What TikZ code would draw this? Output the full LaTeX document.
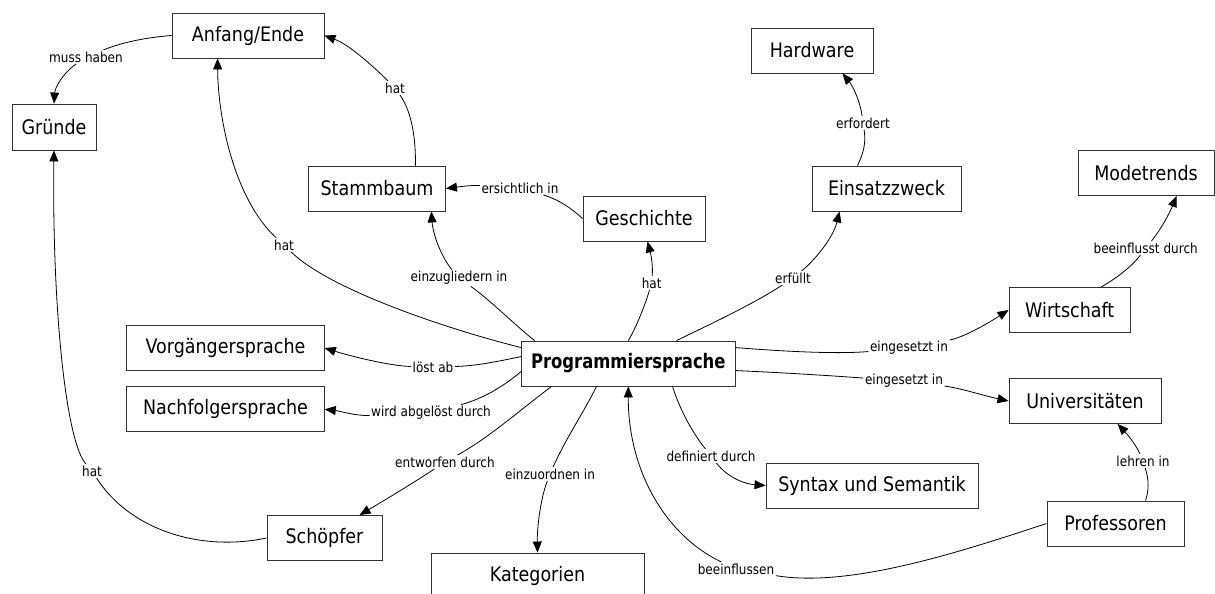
\documentclass[tikz,border=0pt]{standalone}
\usepackage{fontspec}
\newfontfamily\boxfont{DejaVu Sans}[FakeStretch=0.875]
\newfontfamily\pfont{DejaVu Sans}[FakeStretch=0.82]
\usetikzlibrary{arrows.meta,calc}
\tikzset{
  concept/.style={draw=black!80, line width=0.9pt, inner sep=0pt, minimum height=45pt,
    font=\boxfont\fontsize{20}{24}\selectfont},
  lbl/.style={inner sep=1.5pt, font=\boxfont\fontsize{13.8}{16}\selectfont},
  link/.style={line width=0.8pt, black},
  arr/.style={link, -{Triangle[length=11pt,width=9pt]}},
}
\begin{document}
\begin{tikzpicture}[x=1pt,y=-1pt]
\useasboundingbox (0,0) rectangle (1215,594);
\clip (0,0) rectangle (1215,594);
% concepts
\node[concept, minimum width=152pt] (A) at (248,35.5) {Anfang/Ende};
\node[concept, minimum width=84pt, minimum height=46pt] (G) at (54,127) {Gründe};
\node[concept, minimum width=137pt] (S) at (377,188.5) {Stammbaum};
\node[concept, minimum width=122pt] (Ge) at (644,218.5) {Geschichte};
\node[concept, minimum width=122pt] (H) at (812,50.5) {Hardware};
\node[concept, minimum width=149pt] (E) at (886.5,188.5) {Einsatzzweck};
\node[concept, minimum width=136pt] (M) at (1146,173) {Modetrends};
\node[concept, minimum width=121.5pt] (W) at (1069.75,310) {Wirtschaft};
\node[concept, minimum width=197.6pt] (V) at (225.5,348) {Vorgängersprache};
\node[concept, minimum width=197.6pt] (N) at (225.5,409.3) {Nachfolgersprache};
\node[concept, minimum width=213.3pt, font=\pfont\bfseries\fontsize{20}{24}\selectfont] (P) at (628.3,363.5) {Programmiersprache};
\node[concept, minimum width=152pt] (U) at (1085,401) {Universitäten};
\node[concept, minimum width=212pt] (Syn) at (872,485.5) {Syntax und Semantik};
\node[concept, minimum width=137pt] (Prof) at (1115.5,523.5) {Professoren};
\node[concept, minimum width=115pt] (Sch) at (324.5,538) {Schöpfer};
\node[concept, minimum width=213pt] (K) at (537.5,575.5) {Kategorien};
% labels
\node[lbl] (l1) at (86,57) {muss haben};
\node[lbl] (l2) at (395,88) {hat};
\node[lbl] (l3) at (284,245) {hat};
\node[lbl] (l4) at (459,278) {einzugliedern in};
\node[lbl] (l5) at (520,188) {ersichtlich in};
\node[lbl] (l6) at (651.7,283) {hat};
\node[lbl] (l7) at (793,278) {erfüllt};
\node[lbl] (l8) at (863,123) {erfordert};
\node[lbl] (l9) at (909,348) {eingesetzt in};
\node[lbl] (l10) at (904,381) {eingesetzt in};
\node[lbl] (l11) at (1145.7,248) {beeinflusst durch};
\node[lbl] (l12) at (1143,461) {lehren in};
\node[lbl] (l13) at (736,569) {beeinflussen};
\node[lbl] (l14) at (711,456) {definiert durch};
\node[lbl] (l15) at (550,474) {einzuordnen in};
\node[lbl] (l16) at (445,462) {entworfen durch};
\node[lbl] (l17) at (433,367) {löst ab};
\node[lbl] (l18) at (431,413) {wird abgelöst durch};
\node[lbl] (l19) at (92,471) {hat};
% connectors
\draw[link] (A.west) .. controls (140,38) and (118,44) .. (l1);
\draw[arr] (l1) .. controls (62,74) and (55,88) .. (G.north);
\draw[link] ($(S.north west)+(107.3,0)$) .. controls (416,140) and (412,112) .. (l2);
\draw[arr] (l2) .. controls (375,68) and (350,45) .. (A.east);
\draw[link] ($(P.north west)+(0,7)$) .. controls (450,330) and (330,290) .. (l3);
\draw[arr] (l3) .. controls (235,200) and (218,120) .. ($(A.south west)+(46,0)$);
\draw[link] ($(P.north west)+(13.3,0)$) .. controls (515,325) and (490,300) .. (l4);
\draw[arr] (l4) .. controls (442,258) and (433,235) .. ($(S.south west)+(123.3,0)$);
\draw[link] (Ge.west) .. controls (572,209) and (560,200) .. (l5);
\draw[arr] (l5) .. controls (470,185) and (458,187) .. (S.east);
\draw[link] (P.north) .. controls (636,328) and (645,305) .. (l6);
\draw[arr] (l6) .. controls (653,265) and (651,255) .. ($(Ge.south west)+(65,0)$);
\draw[link] ($(P.north west)+(155.3,0)$) .. controls (715,322) and (755,303) .. (l7);
\draw[arr] (l7) .. controls (815,260) and (833,238) .. ($(E.south west)+(28,0)$);
\draw[link] ($(E.north west)+(46,0)$) .. controls (864,152) and (866,142) .. (l8);
\draw[arr] (l8) .. controls (860,100) and (852,85) .. ($(H.south west)+(92,0)$);
\draw[link] ($(P.north east)+(0,7)$) .. controls (790,352) and (840,354) .. (l9);
\draw[arr] (l9) .. controls (965,337) and (990,322) .. (W.west);
\draw[link] ($(P.north east)+(0,30)$) .. controls (790,373) and (835,376) .. (l10);
\draw[arr] (l10) .. controls (960,388) and (985,396) .. (U.west);
\draw[link] ($(W.north west)+(92.7,0)$) .. controls (1120,276) and (1133,265) .. (l11);
\draw[arr] (l11) .. controls (1162,228) and (1170,212) .. ($(M.south west)+(99,0)$);
\draw[link] ($(Prof.north west)+(99,0)$) .. controls (1149,490) and (1149,480) .. (l12);
\draw[arr] (l12) .. controls (1136,445) and (1128,435) .. ($(U.south west)+(109,0)$);
\draw[link] (Prof.west) .. controls (960,552) and (850,588) .. (l13);
\draw[arr] (l13) .. controls (665,535) and (628,470) .. (P.south);
\draw[link] ($(P.south west)+(151.3,0)$) .. controls (680,410) and (692,432) .. (l14);
\draw[arr] (l14) .. controls (728,478) and (745,484) .. (Syn.west);
\draw[link] ($(P.south west)+(75.3,0)$) .. controls (585,410) and (565,440) .. (l15);
\draw[arr] (l15) .. controls (540,500) and (537,530) .. (K.north);
\draw[link] ($(P.south west)+(30.3,0)$) .. controls (520,410) and (490,437) .. (l16);
\draw[arr] (l16) .. controls (410,485) and (385,500) .. ($(Sch.north west)+(93,0)$);
\draw[link] ($(P.north west)+(0,16)$) .. controls (495,362) and (475,366) .. (l17);
\draw[arr] (l17) .. controls (390,366) and (350,356) .. (V.east);
\draw[link] ($(P.north west)+(0,31)$) .. controls (505,385) and (485,398) .. (l18);
\draw[arr] (l18) .. controls (355,416) and (340,411) .. (N.east);
\draw[link] (Sch.west) .. controls (200,552) and (130,530) .. (l19);
\draw[arr] (l19) .. controls (65,440) and (52,300) .. (G.south);
\end{tikzpicture}
\end{document}
